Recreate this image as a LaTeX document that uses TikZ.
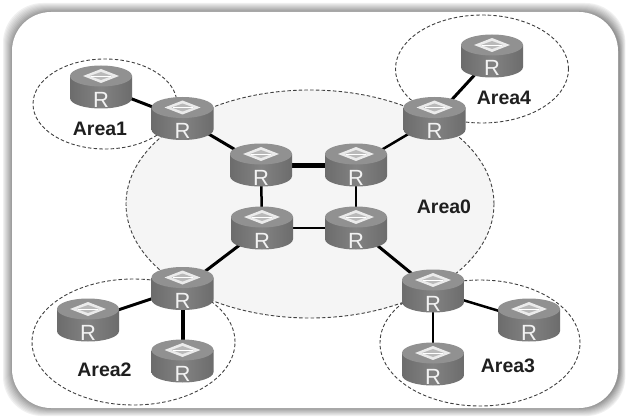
\documentclass[tikz,border=0pt]{standalone}
\usepackage{fontspec}
\setmainfont{Liberation Sans}
\usetikzlibrary{shapes.geometric}
\pgfdeclarelayer{areas}\pgfdeclarelayer{links}
\pgfsetlayers{areas,links,main}
\definecolor{bodyd}{HTML}{6C6C6C}
\definecolor{bodyl}{HTML}{828282}
\definecolor{topc}{HTML}{919191}
\tikzset{
  router/.style={rectangle,inner sep=0pt,minimum width=62pt,minimum height=43pt,text height=40pt,text depth=0pt,
    text=white!95!black,font=\fontsize{22}{22}\selectfont},
  areashape/.style={ellipse,draw=black!75,dash pattern=on 3.5pt off 2.2pt,line width=.9pt,inner sep=0pt},
  arealabel/.style={font=\fontsize{19.5}{20}\selectfont\bfseries,text=black!88,inner sep=0pt},
  link/.style={black,line width=#1},
  link/.default=3pt
}
\newcommand{\rtr}[3]{%
  \begin{scope}[shift={(#2,#3)}]
    \shade[left color=bodyd,right color=bodyd,middle color=bodyl]
      (-31,-11) -- (-31,11) .. controls (-31,17) and (-17,21.5) .. (0,21.5)
      .. controls (17,21.5) and (31,17) .. (31,11) -- (31,-11) -- cycle;
    \fill[topc] (0,-11) ellipse [x radius=31pt,y radius=10.5pt];
    \fill[white!92!black] (-18,-11) -- (0,-18) -- (18,-11) -- (0,-4) -- cycle;
    \fill[gray!55] (-11,-11) -- (0,-15) -- (11,-11) -- (0,-7) -- cycle;
    \draw[white,line width=.8pt] (-10,-11) -- (10,-11);
    \node[router] (#1) at (0,0) {R};
  \end{scope}}
\begin{document}
\begin{tikzpicture}[x=1pt,y=-1pt]
\useasboundingbox (0,0) rectangle (630,420);
\begin{pgfonlayer}{areas}
\fill[white] (0,0) rectangle (630,420);
\foreach \d/\c in {9/94,8/90,7/86,6/82,5/78,4/74,3/70,2/66,1/62,0/58}{
  \fill[black!\the\numexpr100-\c\relax,rounded corners=40pt] ({12-\d},{12-\d}) rectangle ({620+0.6*\d},{408+0.9*\d});
}
\fill[white,rounded corners=39pt] (12,12) rectangle (618,408);
\node[areashape,fill=black!4,minimum width=368pt,minimum height=228pt] (a0) at (310,204) {};
\node[areashape,minimum width=144pt,minimum height=90pt] (a1) at (105,104) {};
\node[areashape,minimum width=173pt,minimum height=108pt] (a4) at (482,69) {};
\node[areashape,minimum width=203pt,minimum height=126pt] (a2) at (133.5,342) {};
\node[areashape,minimum width=200pt,minimum height=126pt] (a3) at (480,343) {};
\end{pgfonlayer}
\rtr{ra1}{101}{87}
\rtr{r1}{182.5}{118.5}
\rtr{tl}{261}{165}
\rtr{tr}{356}{165}
\rtr{bl}{262}{228}
\rtr{br}{356}{228}
\rtr{r4}{434.5}{118.5}
\rtr{ra4}{492}{56}
\rtr{r3}{433}{291}
\rtr{ra3r}{529}{320}
\rtr{ra3b}{433}{364}
\rtr{r2}{182.5}{288.5}
\rtr{ra2l}{88}{320}
\rtr{ra2b}{182.5}{361}
\begin{pgfonlayer}{links}
\draw[link] (ra1.center) -- (r1.center);
\draw[link] (r1.center) -- (tl.center);
\draw[link=5pt] (tl.center) -- (tr.center);
\draw[link=2.5pt] (tl.center) -- (bl.center);
\draw[link=2pt] (bl.center) -- (br.center);
\draw[link=2.5pt] (tr.center) -- (br.center);
\draw[link=2.5pt] (tr.center) -- (r4.center);
\draw[link] (r4.center) -- (ra4.center);
\draw[link] (br.center) -- (r3.center);
\draw[link=2.5pt] (r3.center) -- (ra3r.center);
\draw[link=2pt] (r3.center) -- (ra3b.center);
\draw[link] (bl.center) -- (r2.center);
\draw[link] (r2.center) -- (ra2l.center);
\draw[link=4pt] (r2.center) -- (ra2b.center);
\end{pgfonlayer}
\node[arealabel] (l1) at (100,128.5) {Area1};
\node[arealabel] (l4) at (504,98) {Area4};
\node[arealabel] (l0) at (444,207) {Area0};
\node[arealabel] (l2) at (104.5,370) {Area2};
\node[arealabel] (l3) at (508,366) {Area3};
\end{tikzpicture}
\end{document}
